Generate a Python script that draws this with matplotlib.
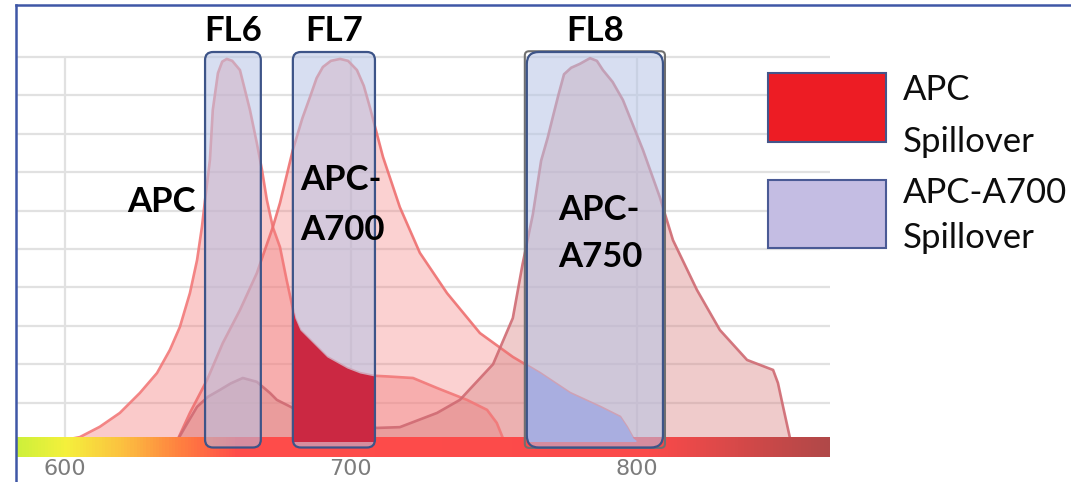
import numpy as np
import matplotlib.pyplot as plt
from matplotlib.patches import FancyBboxPatch, Rectangle
from matplotlib.colors import LinearSegmentedColormap
from matplotlib.lines import Line2D

# emission spectra (wavelength in nm, intensity 0-10)
apc_nm = [598, 605.2, 612.2, 619.2, 626.2, 632.2, 636.7, 640.2, 643.7, 646.2, 647.9, 649,
          650.7, 651.7, 653.5, 655, 656.6, 658.5, 661.2, 664.7, 667.1, 668.9, 670.6,
          672.7, 675.2, 677.5, 680.4, 682.2, 685.7, 691.6, 698.6, 703.1, 707.7, 713,
          721.7, 730.1, 740.6, 747.6, 751, 753.1, 755]
apc_y = [0, 0.1, 0.37, 0.73, 1.25, 1.77, 2.37, 2.97, 3.85, 4.71, 5.57, 6.28,
         7.32, 8.62, 9.58, 9.88, 9.95, 9.9, 9.66, 8.62, 7.76, 7.06, 6.28,
         5.57, 5.05, 4.2, 3.2, 2.89, 2.63, 2.19, 1.9, 1.77, 1.7, 1.68,
         1.64, 1.38, 1.07, 0.81, 0.47, 0.08, 0]

a700_nm = [639.2, 643.7, 649.7, 655.2, 661.2, 667.1, 672.7, 675.2, 679.7, 683, 685.7,
           688, 690.2, 693, 696.2, 699, 702.1, 704.5, 706.6, 711.2, 717.1, 724.1, 733.6,
           745.1, 756.6, 766.1, 776.6, 787.1, 794.1, 796.5, 798.6, 800]
a700_y = [0, 0.73, 1.59, 2.55, 3.41, 4.37, 5.57, 6.2, 7.58, 8.4, 8.96,
          9.45, 9.74, 9.9, 9.95, 9.9, 9.66, 9.25, 8.7, 7.4, 6.09, 4.9, 3.85,
          2.81, 2.19, 1.77, 1.25, 0.89, 0.63, 0.36, 0.08, 0]

a750_nm = [639.2, 642.7, 646.2, 650, 654.2, 658, 662.2, 667.1, 671.7, 674.1, 679.7,
           692.7, 709.1, 717.1, 730.1, 738.1, 749.7, 756.6, 760, 763.6, 766.5, 768.8,
           770.6, 772.5, 774.5, 777, 780, 783.6, 786, 788.1, 791.5, 795.1, 802.1, 808,
           812.6, 821, 829, 838.5, 847.6, 849.3, 851.1, 853.5, 854]
a750_y = [0, 0.45, 0.89, 1.15, 1.33, 1.5, 1.64, 1.54, 1.25, 1.07, 0.86,
          0.49, 0.34, 0.36, 0.73, 1.07, 2.0, 3.2, 4.6, 5.9, 7.3, 7.9,
          8.44, 9.0, 9.55, 9.72, 9.82, 9.97, 9.9, 9.66, 9.35, 8.88, 7.58, 6.35,
          5.23, 3.93, 2.89, 2.11, 1.85, 1.51, 0.89, 0.08, 0]

# detector channels (nm)
channels = ['FL6', 'FL7', 'FL8']
ch_lo = [649, 679.7, 761.5]
ch_hi = [668.5, 708.4, 809.1]

xticks = [600, 700, 800]

W, H = 1071, 482
fig = plt.figure(figsize=(W / 100, H / 100), dpi=100)
ax = fig.add_axes([16 / W, 1 - 457.1 / H, 814 / W, 438.5 / H])
ax.set_xlim(582.9, 867.5)
ax.set_ylim(-0.42, 11)
ax.patch.set_alpha(0)
for s in ax.spines.values():
    s.set_visible(False)

# grid
ax.hlines(np.arange(1, 11), 582.9, 867.5, color='#e1e1e1', lw=1.6, zorder=0)
ax.vlines(xticks, 0, 10, color='#e1e1e1', lw=1.6, zorder=0)

# spectra
ax.fill_between(apc_nm, apc_y, color='#f47c7c', alpha=0.4, lw=0, zorder=1)
ax.plot(apc_nm, apc_y, color='#f27878', lw=1.9, alpha=0.9, zorder=1.2)
ax.fill_between(a700_nm, a700_y, color='#f47c7c', alpha=0.35, lw=0, zorder=1)
ax.plot(a700_nm, a700_y, color='#ee7070', lw=1.9, alpha=0.9, zorder=1.2)
ax.fill_between(a750_nm, a750_y, color='#d98585', alpha=0.42, lw=0, zorder=1)
ax.plot(a750_nm, a750_y, color='#cf6a72', lw=1.9, alpha=0.9, zorder=1.2)

# wavelength colour bar
cmap = LinearSegmentedColormap.from_list('spec', [
    (0.0, '#cdf03a'), (0.06, '#f5f03c'), (0.13, '#fcc040'), (0.2, '#ff8040'),
    (0.27, '#ff4d4a'), (0.78, '#fb4a4a'), (1.0, '#b04848')])
ax.imshow(np.linspace(0, 1, 256)[None, :], cmap=cmap, aspect='auto',
          extent=[582.9, 867.5, -0.42, 0.08], zorder=2)

# channel boxes
asp = 2.86 / 38.4
boxes = []
for name, lo, hi in zip(channels, ch_lo, ch_hi):
    r = 4.2 if name == 'FL8' else 2.8
    if name == 'FL8':
        ax.add_patch(FancyBboxPatch((lo - 0.7, -0.18), hi - lo + 1.4, 10.33,
                                    boxstyle='round,pad=0,rounding_size=1.5',
                                    mutation_aspect=asp, fc='none', ec='#707070',
                                    lw=1.5, zorder=3, clip_on=False))
    b = FancyBboxPatch((lo, -0.17), hi - lo, 10.3,
                       boxstyle=f'round,pad=0,rounding_size={r}',
                       mutation_aspect=asp, fc='#b6c4e6', alpha=0.55, ec='none',
                       zorder=3, clip_on=False)
    ax.add_patch(b)
    ax.add_patch(FancyBboxPatch((lo, -0.17), hi - lo, 10.3,
                                boxstyle=f'round,pad=0,rounding_size={r}',
                                mutation_aspect=asp, fc='none', ec='#3d5488',
                                lw=1.6, zorder=5, clip_on=False))
    boxes.append(b)
    ax.text((lo + hi) / 2, 10.42, name, ha='center', va='baseline',
            fontsize=25, fontweight='bold', family='Lato', zorder=6)

# spillover areas
red = ax.fill_between(apc_nm, apc_y, color='#cb2842', lw=0, zorder=4)
red.set_clip_path(boxes[1])
blue = ax.fill_between(a700_nm, a700_y, color='#a9aee0', lw=0, zorder=4)
blue.set_clip_path(boxes[2])

# dye names
lab = dict(fontsize=25, fontweight='bold', family='Lato', va='baseline', zorder=6)
ax.text(633.6, 5.96, 'APC', ha='center', **lab)
ax.text(682.2, 6.54, 'APC-', ha='left', **lab)
ax.text(682.2, 5.23, 'A700', ha='left', **lab)
ax.text(772.4, 5.76, 'APC-', ha='left', **lab)
ax.text(772.4, 4.53, 'A750', ha='left', **lab)

ax.set_yticks([])
ax.set_xticks(xticks)
ax.set_xticklabels([str(t) for t in xticks], fontsize=16, color='#7c7c7c',
                   family='DejaVu Sans')
ax.tick_params(axis='x', length=0, pad=1.5)

# legend swatches
def fx(px):
    return px / W

def fy(py):
    return 1 - py / H

fig.add_artist(Rectangle((fx(768), fy(142)), 118 / W, 69 / H, fc='#ed1c24',
                         ec='#44558a', lw=1.5))
fig.add_artist(Rectangle((fx(768), fy(248)), 118 / W, 68 / H, fc='#c4bde3',
                         ec='#4a5a95', lw=1.5))
leg = dict(fontsize=25, family='Lato', va='baseline', ha='left', color='#0d0d0d')
fig.text(fx(903), fy(100), 'APC', **leg)
fig.text(fx(903), fy(152), 'Spillover', **leg)
fig.text(fx(903), fy(203), 'APC-A700', **leg)
fig.text(fx(903), fy(248), 'Spillover', **leg)

# slide frame
fig.add_artist(Line2D([fx(16), 1], [fy(5), fy(5)], color='#3f57a6', lw=1.8))
fig.add_artist(Line2D([fx(16), fx(16)], [0, fy(5)], color='#3f57a6', lw=1.8))

fig.savefig('out.png', dpi=100)
